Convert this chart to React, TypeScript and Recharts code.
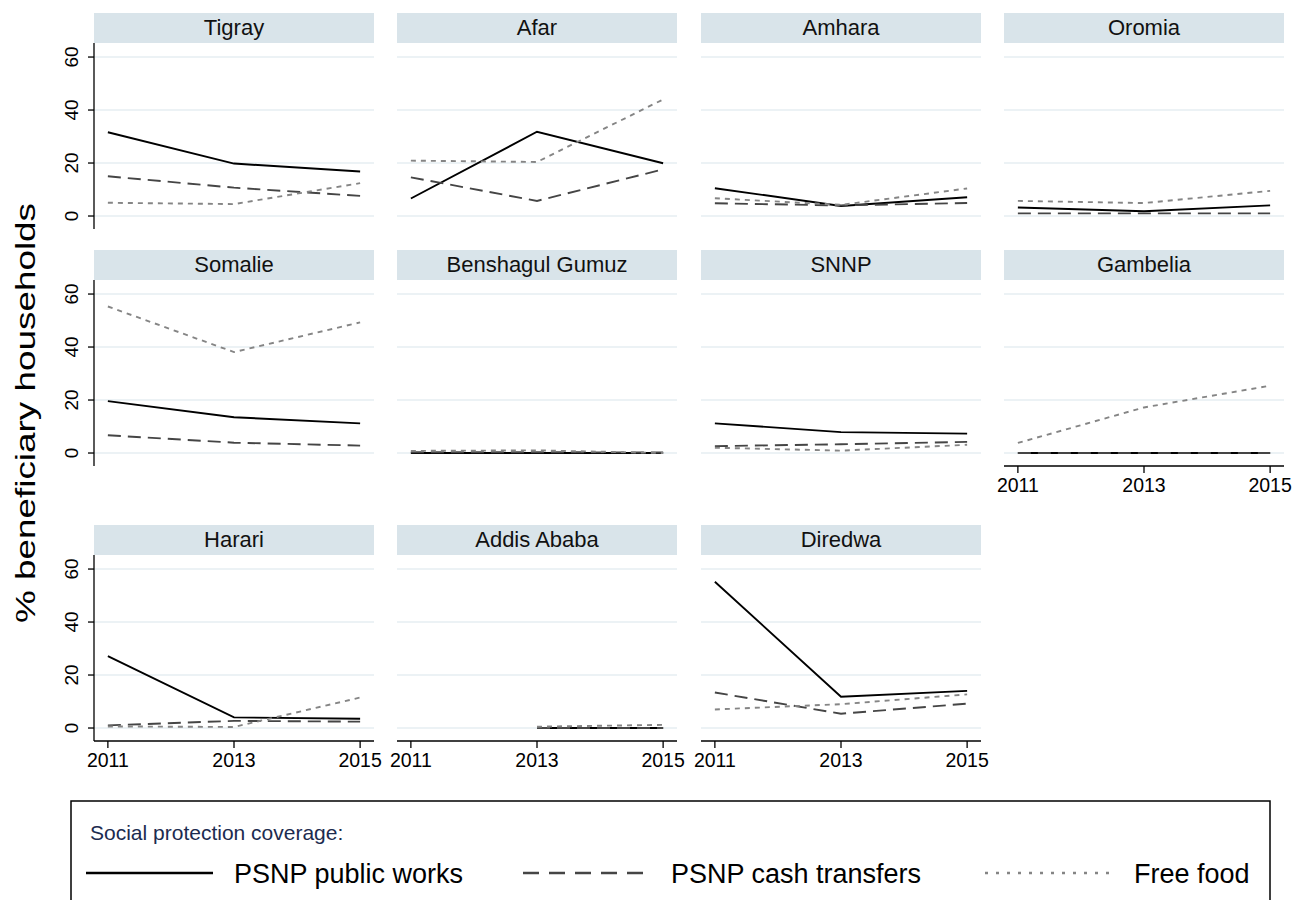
import React from 'react';
import { LineChart, Line, XAxis, YAxis, CartesianGrid } from 'recharts';

const years = [2011, 2013, 2015];
const yTicks = [0, 20, 40, 60];

const regions = [
  'Tigray', 'Afar', 'Amhara', 'Oromia',
  'Somalie', 'Benshagul Gumuz', 'SNNP', 'Gambelia',
  'Harari', 'Addis Ababa', 'Diredwa',
];

// one row per region, values for 2011 / 2013 / 2015
const publicWorks = [
  [31.6, 19.8, 16.8], [6.6, 31.8, 19.9], [10.5, 3.8, 7.1], [3.2, 1.8, 4.0],
  [19.6, 13.5, 11.2], [0, 0, 0], [11.2, 7.9, 7.3], [0, 0, 0],
  [27.1, 4.0, 3.5], [null, 0, 0], [55.2, 11.8, 14.0],
];
const cashTransfers = [
  [15.0, 10.7, 7.6], [14.6, 5.7, 17.6], [4.8, 4.0, 4.9], [1.0, 1.0, 1.0],
  [6.7, 3.9, 2.8], [0.3, 0.3, 0.2], [2.6, 3.3, 4.2], [0, 0, 0],
  [1.0, 2.7, 2.4], [null, 0, 0], [13.4, 5.4, 9.2],
];
const freeFood = [
  [5.0, 4.5, 12.4], [20.9, 20.4, 44.0], [6.7, 4.2, 10.4], [5.7, 4.9, 9.5],
  [55.3, 38.1, 49.3], [0.8, 1.0, 0], [2.0, 0.9, 3.1], [3.8, 17.2, 25.4],
  [0.6, 0.4, 11.5], [null, 0.5, 1.2], [7.0, 9.0, 12.7],
];

const FONT = '"Liberation Sans", Arial, Helvetica, sans-serif';
const STRIP = '#d9e4ea';
const GRID = '#e6eef2';
const PLOT_W = 280;
const PLOT_H = 186;
const colLeft = [94, 397, 701, 1004];
const rowTop = [43, 280, 555];

const YTick = (props: any) => {
  const { x, y, payload } = props;
  return (
    <text
      transform={`translate(${x - 8},${y}) rotate(-90)`}
      textAnchor="middle"
      fontSize={19}
      fill="#000"
      fontFamily={FONT}
    >
      {payload.value}
    </text>
  );
};

function Panel({ i }: { i: number }) {
  const col = i % 4;
  const row = Math.floor(i / 4);
  const isLeft = col === 0;
  const isBottom = row === 2 || i === 7;
  const plotLeft = colLeft[col];
  const plotTop = rowTop[row];

  const data = years.map((yr, k) => ({
    year: yr,
    pw: publicWorks[i][k],
    cash: cashTransfers[i][k],
    food: freeFood[i][k],
  }));

  const yw = isLeft ? 50 : 0;
  const mL = 20;
  const mR = 30;
  const xh = 45;

  return (
    <>
      <div
        style={{
          position: 'absolute',
          left: plotLeft,
          top: plotTop - 30,
          width: PLOT_W,
          height: 30,
          background: STRIP,
          textAlign: 'center',
          lineHeight: '30px',
          fontSize: 22,
          color: '#111',
        }}
      >
        {regions[i]}
      </div>
      <div style={{ position: 'absolute', left: plotLeft - yw - mL, top: plotTop }}>
        <LineChart
          width={PLOT_W + yw + mL + mR}
          height={PLOT_H + (isBottom ? xh : 0)}
          data={data}
          margin={{ top: 0, right: mR, bottom: 0, left: mL }}
        >
          <CartesianGrid vertical={false} horizontalValues={yTicks} stroke={GRID} strokeWidth={1.5} />
          <XAxis
            dataKey="year"
            type="number"
            domain={[2010.78, 2015.22]}
            ticks={years}
            hide={!isBottom}
            height={xh}
            tickSize={7}
            tickMargin={5}
            stroke="#000"
            strokeWidth={1.3}
            tick={{ fill: '#000', fontSize: 19.5, fontFamily: FONT }}
            allowDataOverflow
          />
          <YAxis
            type="number"
            domain={[-4.9, 65.3]}
            ticks={yTicks}
            hide={!isLeft}
            width={yw}
            tickSize={6}
            stroke="#000"
            strokeWidth={1.3}
            tick={<YTick />}
            allowDataOverflow
          />
          <Line dataKey="pw" stroke="#000" strokeWidth={1.9} dot={false} isAnimationActive={false} />
          <Line dataKey="cash" stroke="#454545" strokeWidth={1.9} strokeDasharray="13 7" dot={false} isAnimationActive={false} />
          <Line dataKey="food" stroke="#858585" strokeWidth={1.9} strokeDasharray="5 5" dot={false} isAnimationActive={false} />
        </LineChart>
      </div>
    </>
  );
}

export default function App() {
  return (
    <div
      style={{
        position: 'absolute',
        left: 0,
        top: 0,
        width: 1294,
        height: 900,
        background: '#fff',
        overflow: 'hidden',
        fontFamily: FONT,
      }}
    >
      {regions.map((r, i) => (
        <Panel key={r} i={i} />
      ))}

      <svg width={1294} height={900} style={{ position: 'absolute', left: 0, top: 0, pointerEvents: 'none' }}>
        <text
          transform="translate(35,413) rotate(-90)"
          textAnchor="middle"
          fontSize={28}
          fontFamily={FONT}
          fill="#000"
          textLength={420}
          lengthAdjust="spacingAndGlyphs"
        >
          % beneficiary households
        </text>

        <rect x={71} y={801} width={1199} height={130} fill="none" stroke="#000" strokeWidth={1.5} />
        <text x={90} y={840} fontSize={21} fontFamily={FONT} fill="#1c2b4f">
          Social protection coverage:
        </text>

        <line x1={86} y1={873} x2={213} y2={873} stroke="#000" strokeWidth={2.5} />
        <text x={234} y={883} fontSize={27} fontFamily={FONT} fill="#000">PSNP public works</text>

        <line x1={523} y1={873} x2={650} y2={873} stroke="#454545" strokeWidth={2.5} strokeDasharray="16 10" />
        <text x={671} y={883} fontSize={27} fontFamily={FONT} fill="#000">PSNP cash transfers</text>

        <line x1={985} y1={873} x2={1113} y2={873} stroke="#858585" strokeWidth={2.5} strokeDasharray="3 8" />
        <text x={1134} y={883} fontSize={27} fontFamily={FONT} fill="#000">Free food</text>
      </svg>
    </div>
  );
}
